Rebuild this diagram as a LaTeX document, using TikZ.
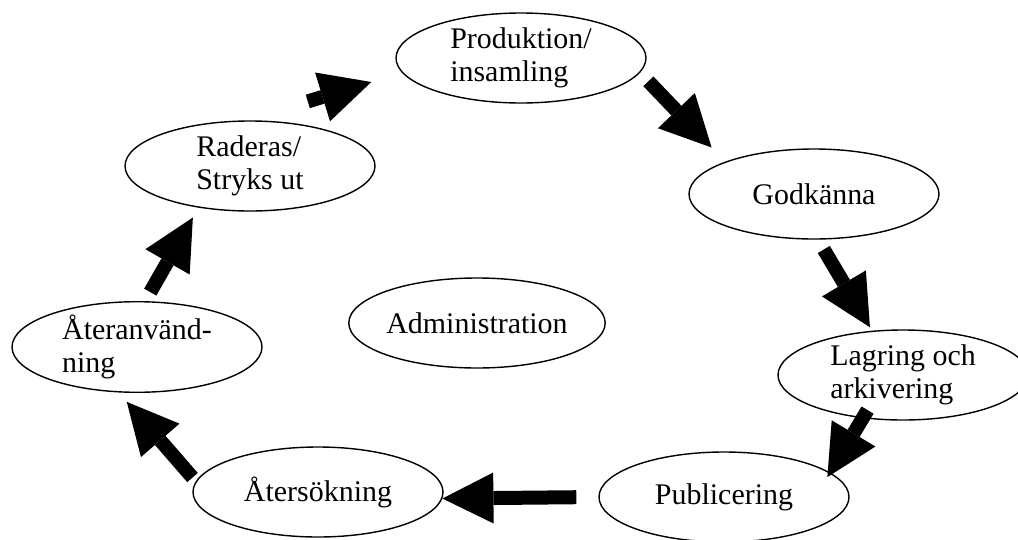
\documentclass[tikz,border=0pt]{standalone}
\usepackage{fontspec}
\setmainfont{Liberation Serif}
\usetikzlibrary{shapes.geometric,arrows.meta}
\begin{document}
\begin{tikzpicture}[
    phase/.style={draw, ellipse, line width=1pt, minimum width=6.25cm,
      minimum height=2.25cm, inner sep=0pt, align=left,
      font=\fontsize{21.3}{23.5}\selectfont},
    flow/.style={line width=0.35cm,
      -{Triangle[length=1.275cm, width=1.275cm, line width=0pt]}}
  ]
  \useasboundingbox (0,0) rectangle (25.45,-13.475);
  \draw
    (13.025,-1.45) node[phase] (prod) {Produktion/\\insamling}
    (20.35,-4.85) node[phase] (god) {Godkänna}
    (22.575,-9.375) node[phase] (lag) {Lagring och\\arkivering}
    (18.1,-12.425) node[phase] (pub) {Publicering}
    (7.95,-12.3) node[phase] (ret) {Återsökning}
    (3.425,-8.675) node[phase] (reu) {Återanvänd-\\ning}
    (6.25,-4.15) node[phase] (rad) {Raderas/\\Stryks ut}
    (11.925,-8.075) node[phase] (adm) {Administration};
  \begin{scope}[flow]
    \draw[shorten <=1.615cm, shorten >=0.8cm] (rad.95) to (prod.187);
    \draw[shorten <=0.3cm, shorten >=0.49cm] (prod.353) to (god.160);
    \draw[shorten <=0.285cm, shorten >=0.1cm] (god.275) to (lag.125);
    \draw[shorten <=-0.24cm, shorten >=-0.135cm] (lag.227) to (pub.13);
    \draw[shorten <=0.55cm] (pub.180) to (ret.-3);
    \draw[shorten <=0.125cm, shorten >=0.31cm] (ret.175) to (reu.248);
    \draw[shorten <=0.26cm, shorten >=0.285cm] (reu.80) to (rad.219);
  \end{scope}
\end{tikzpicture}
\end{document}
